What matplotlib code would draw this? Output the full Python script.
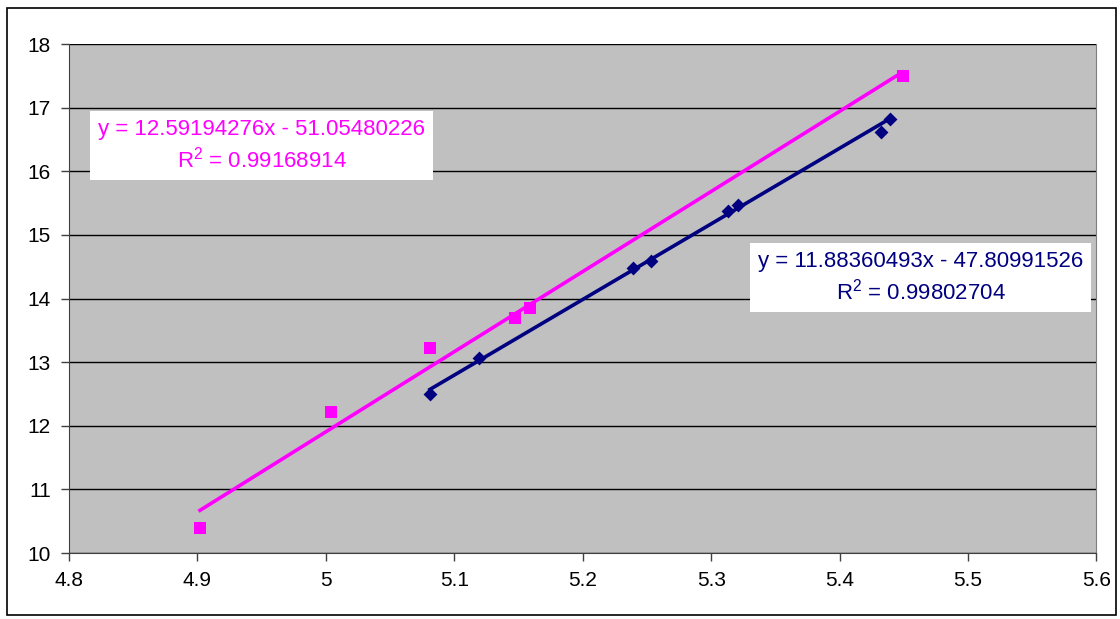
import numpy as np
import matplotlib.pyplot as plt
from matplotlib.patches import Rectangle

plt.rcParams['font.family'] = ['Liberation Sans', 'DejaVu Sans']

# magenta series (squares)
x_pink = [4.902, 5.004, 5.081, 5.147, 5.159, 5.449]
y_pink = [10.39, 12.21, 13.22, 13.69, 13.85, 17.50]
# navy series (diamonds)
x_navy = [5.081, 5.119, 5.239, 5.253, 5.313, 5.321, 5.432, 5.439]
y_navy = [12.50, 13.06, 14.48, 14.59, 15.37, 15.47, 16.62, 16.82]

# trendline coefficients as printed on the chart
fit_pink = (12.59194276, -51.05480226, 0.99168914)
fit_navy = (11.88360493, -47.80991526, 0.99802704)

pink = '#ff00ff'
navy = '#000080'

fig = plt.figure(figsize=(11.2, 6.19), dpi=100)
fig.patches.append(Rectangle((0.006, 0.006), 0.99, 0.981, transform=fig.transFigure,
                             fill=False, edgecolor='black', linewidth=1.2))
ax = fig.add_axes([0.0616, 0.1066, 0.9174, 0.8223])
ax.set_facecolor('#c0c0c0')

ax.set_xlim(4.8, 5.6)
ax.set_ylim(10, 18)
ax.set_xticks(np.arange(4.8, 5.61, 0.1))
ax.set_xticklabels(['4.8', '4.9', '5', '5.1', '5.2', '5.3', '5.4', '5.5', '5.6'])
ax.set_yticks(range(10, 19))
ax.yaxis.grid(True, color='black', linewidth=1.0)
ax.set_axisbelow(True)
ax.tick_params(axis='both', labelsize=15, direction='out', length=6, width=1,
               color='#404040', pad=7)
ax.spines['top'].set_visible(False)
ax.spines['right'].set_color('#808080')
ax.spines['left'].set_color('#404040')
ax.spines['bottom'].set_color('#404040')

for xs, ys, fit, col in [(x_pink, y_pink, fit_pink, pink), (x_navy, y_navy, fit_navy, navy)]:
    xl = np.array([min(xs), max(xs)])
    ax.plot(xl, fit[0] * xl + fit[1], color=col, linewidth=2.6, zorder=3)

ax.scatter(x_pink, y_pink, marker='s', s=70, color=pink, zorder=4, linewidths=0)
ax.scatter(x_navy, y_navy, marker='D', s=50, color=navy, zorder=4, linewidths=0)

box = dict(boxstyle='square,pad=0.35', facecolor='white', edgecolor='none')
ax.text(4.950, 16.40, 'y = %.8fx - %.8f\n$\\mathregular{R^2}$ = %.8f' % (fit_pink[0], -fit_pink[1], fit_pink[2]),
        color=pink, fontsize=16, ha='center', va='center', multialignment='center',
        bbox=box, linespacing=1.3)
ax.text(5.463, 14.33, 'y = %.8fx - %.8f\n$\\mathregular{R^2}$ = %.8f' % (fit_navy[0], -fit_navy[1], fit_navy[2]),
        color=navy, fontsize=16, ha='center', va='center', multialignment='center',
        bbox=box, linespacing=1.3)

fig.savefig('out.png', dpi=100)
